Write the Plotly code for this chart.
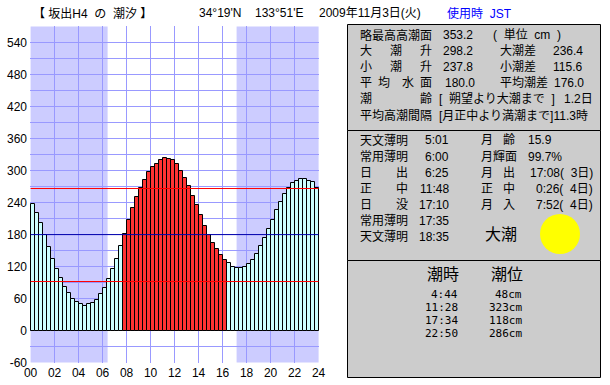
import plotly.graph_objects as go

W, H = 610, 385
BAR_HOURS = 1 / 3
tide_cm = [238, 220, 201, 179, 156, 135, 115, 98, 81, 70, 60, 53, 49, 47, 49, 51, 58, 68, 79, 96, 115, 135, 159,
           182, 207, 229, 250, 268, 283, 297, 306, 313, 319, 323, 321, 319, 312, 300, 287, 272, 253, 235, 216, 197, 180, 165, 153,
           141, 132, 126, 120, 118, 118, 120, 124, 132, 143, 158, 173, 190, 208, 227, 242, 257, 268, 276, 281, 285, 285, 281, 278, 268]
red_start_h, red_end_h = 7 + 40 / 60, 16 + 20 / 60
sunrise_h, sunset_h = 6 + 25 / 60, 17 + 10 / 60
mean_level = 180
mean_high, mean_low = 266.4, 92
x_ticks = list(range(0, 25, 2))
x_labels = [f"{h:02d}" for h in x_ticks]
y_ticks = list(range(-60, 571, 30))
y_labels = [str(v) if v % 60 == 0 and v < 570 else "" for v in y_ticks]
x_range = [-0.05, 24.033]
y_range = [-60.75, 571.125]

FONT = "'Liberation Sans', 'Noto Sans CJK JP', sans-serif"
MONO = "'DejaVu Sans Mono', 'Noto Sans CJK JP', monospace"

hours = [(i + 0.5) * BAR_HOURS for i in range(len(tide_cm))]
colors = ["#FF3333" if red_start_h - 1e-6 <= (i * BAR_HOURS) < red_end_h - 1e-6 else "#CCFFFF" for i in range(len(tide_cm))]

fig = go.Figure(go.Bar(x=hours, y=tide_cm, width=BAR_HOURS, marker=dict(color=colors, line=dict(color="black", width=1)), hoverinfo="skip"))

def px_x(x): return x / W
def px_y(y): return 1 - y / H

shapes = []
NIGHT = "#CCCCFF"
for a, b in [(0, sunrise_h), (sunset_h, 24)]:
    shapes.append(dict(type="rect", xref="x", yref="y", x0=a, x1=b, y0=-60, y1=570, fillcolor=NIGHT, line_width=0, layer="below"))
for val, col in [(mean_high, "#FF0000"), (mean_low, "#FF0000"), (mean_level, "#0000AA")]:
    shapes.append(dict(type="line", xref="x", yref="y", x0=0, x1=24, y0=val, y1=val, line=dict(color=col, width=1), layer="above"))
for top, bot in [(24.5, 130.5), (130.5, 260.5), (260.5, 377.5)]:
    shapes.append(dict(type="rect", xref="paper", yref="paper", x0=px_x(347.5), x1=px_x(600.5), y0=px_y(bot), y1=px_y(top),
                       fillcolor="#CCCCCC", line=dict(color="black", width=1), layer="below"))
shapes.append(dict(type="circle", xref="paper", yref="paper", x0=px_x(540), x1=px_x(580), y0=px_y(254), y1=px_y(214),
                   fillcolor="#FFFF00", line_width=0, layer="above"))

anns = []
def T(x, y, s, size=12, color="black", anchor="left", fam=FONT):
    anns.append(dict(x=px_x(x), y=px_y(y), xref="paper", yref="paper", text=s, showarrow=False, xanchor=anchor, yanchor="middle",
                     borderpad=0, borderwidth=0, font=dict(family=fam, size=size, color=color)))

NB = "\u00a0"
# header
T(33, 13, f"【{NB}坂出H4{NB}{NB}の{NB}{NB}潮汐{NB}】")
T(199, 13, "34°19'N")
T(255, 13, "133°51'E")
T(319, 13, "2009年11月3日(火)")
T(447, 13, f"使用時{NB}{NB}JST", color="#0000FF")

# panel 1
r = [35, 51, 67, 83, 99, 115]
T(360, r[0], "略最高高潮面"); T(443, r[0], "353.2"); T(493, r[0], f"({NB}{NB}単位{NB}{NB}cm{NB}{NB})")
for y, ch in [(r[1], "大"), (r[2], "小")]:
    T(360, y, ch); T(390, y, "潮"); T(420, y, "升")
T(443, r[1], "298.2"); T(500, r[1], "大潮差"); T(553, r[1], "236.4")
T(443, r[2], "237.8"); T(500, r[2], "小潮差"); T(553, r[2], "115.6")
T(360, r[3], "平"); T(378, r[3], "均"); T(402, r[3], "水"); T(420, r[3], "面")
T(445, r[3], "180.0"); T(500, r[3], "平均潮差"); T(554, r[3], "176.0")
T(360, r[4], "潮"); T(420, r[4], "齢"); T(439, r[4], f"[{NB}{NB}朔望より大潮まで{NB}{NB}]"); T(564, r[4], "1.2日")
T(360, r[5], "平均高潮間隔"); T(439, r[5], "[月正中より満潮まで]11.3時")

# panel 2
r = [140.5, 156.5, 172.5, 188.5, 204.5, 220.5, 236.5]
T(360, r[0], "天文薄明"); T(360, r[1], "常用薄明")
T(360, r[2], "日"); T(396, r[2], "出"); T(360, r[3], "正"); T(396, r[3], "中"); T(360, r[4], "日"); T(396, r[4], "没")
T(360, r[5], "常用薄明"); T(360, r[6], "天文薄明")
for y, s in zip(r, ["5:01", "6:00", "6:25", "11:48", "17:10", "17:35", "18:35"]):
    T(448.5, y, s, anchor="right")
T(481, r[0], "月"); T(503, r[0], "齢"); T(481, r[1], "月輝面")
T(481, r[2], "月"); T(503, r[2], "出"); T(481, r[3], "正"); T(503, r[3], "中"); T(481, r[4], "月"); T(503, r[4], "入")
T(528, r[0], "15.9"); T(528, r[1], "99.7%")
T(593, r[2], f"17:08({NB}{NB}3日)", anchor="right"); T(593, r[3], f"0:26({NB}{NB}4日)", anchor="right"); T(593, r[4], f"7:52({NB}{NB}4日)", anchor="right")
T(485, 234, "大潮", size=16)

# panel 3
T(427, 274, "潮時", size=16); T(491, 274, "潮位", size=16)
for y, t, v in zip([294.5, 307.5, 320.5, 333.5], ["4:44", "11:28", "17:34", "22:50"], ["48cm", "323cm", "118cm", "286cm"]):
    T(458, y, t, size=11, anchor="right", fam=MONO); T(522, y, v, size=11, anchor="right", fam=MONO)

GRID = "#9999FF"
fig.update_layout(
    width=W, height=H, margin=dict(l=0, r=0, t=0, b=0), autosize=False,
    paper_bgcolor="white", plot_bgcolor="white", showlegend=False, bargap=0,
    shapes=shapes, annotations=anns, font=dict(family=FONT, size=12, color="black"),
    xaxis=dict(domain=[30 / W, 319 / W], range=x_range, tickmode="array", tickvals=x_ticks, ticktext=x_labels, automargin=False,
               showgrid=True, gridcolor=GRID, gridwidth=1, zeroline=False, showline=False,
               ticks="", tickfont=dict(family=FONT, size=12, color="black"), ticklabelstandoff=1),
    yaxis=dict(domain=[1 - 363 / H, 1 - 26 / H], range=y_range, tickmode="array", tickvals=y_ticks, ticktext=y_labels, automargin=False,
               showgrid=True, gridcolor=GRID, gridwidth=1, zeroline=False, showline=False,
               ticks="", tickfont=dict(family=FONT, size=12, color="black"), ticklabelstandoff=2),
)
fig.write_html("out.html", config={"displayModeBar": False}, post_script="document.body.style.margin='0';")
